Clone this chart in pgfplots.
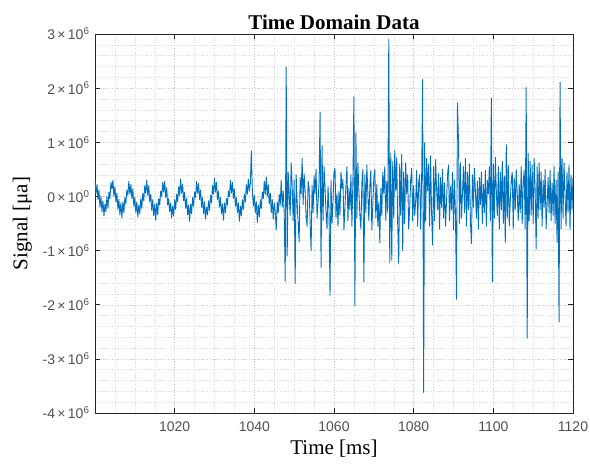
\documentclass[border=0pt]{standalone}
\usepackage{fontspec}
\setmainfont{Liberation Serif}
\newfontfamily\arialfont{Liberation Sans}
\usepackage{pgfplots}
\pgfplotsset{compat=1.18}
\definecolor{mblue}{RGB}{0,114,189}
\definecolor{axgray}{RGB}{38,38,38}
\definecolor{tickgray}{RGB}{80,80,80}
\newcommand{\sci}[2]{#1\,×\,10\textsuperscript{#2}}

\begin{document}
\begin{tikzpicture}
% fix the page to the reference's 590 x 468 frame
\useasboundingbox (-95pt,-55pt) rectangle (495pt,413pt);
\begin{axis}[
    scale only axis,
    width=478pt,
    height=379pt,
    xmin=1000, xmax=1120,
    ymin=-4, ymax=3,
    xtick={1020,1040,...,1120},
    xticklabels={1020,1040,1060,1080,1100,1120},
    minor xtick={1000,1005,...,1120},
    ytick={-4,-3,...,3},
    yticklabels={\sci{-4}{6},\sci{-3}{6},\sci{-2}{6},\sci{-1}{6},\sci{0}{0},\sci{1}{6},\sci{2}{6},\sci{3}{6}},
    minor y tick num=4,
    grid=both,
    major grid style={gray!40, line width=0.4pt, dash pattern=on 1.2pt off 1.6pt},
    minor grid style={gray!28, line width=0.4pt, dash pattern=on 1.2pt off 1.6pt},
    tick align=inside,
    xtick pos=both, ytick pos=both,
    major tick length=5pt,
    minor tick length=0pt,
    axis line style={axgray, line width=0.6pt},
    every tick/.style={axgray, line width=0.6pt},
    ticklabel style={font=\arialfont\fontsize{14}{16}\selectfont, text=tickgray},
    xticklabel style={yshift=-5pt},
    yticklabel style={xshift=-2pt},
    title={\textbf{Time Domain Data}},
    title style={font=\fontsize{21}{24}\selectfont, yshift=-5pt},
    xlabel={Time [ms]},
    ylabel={Signal [μa]},
    label style={font=\fontsize{21}{24}\selectfont},
    xlabel style={yshift=-2pt},
    ylabel style={yshift=4pt},
]
% signal in units of 10^6, sampled every 0.25 ms from 1000 ms
\addplot[mblue, line width=0.9pt, line join=round] table[row sep=\\, x expr=1000+0.25*\coordindex, y index=0] {
y \\
0.30 \\ 0.05 \\ 0.22 \\ -0.06 \\ 0.12 \\ -0.20 \\ 0.00 \\ -0.28 \\ -0.08 \\ -0.36 \\ -0.14 \\ -0.28 \\ 0.00 \\ -0.22 \\ 0.08 \\ -0.04 \\ 0.26 \\
0.14 \\ 0.30 \\ 0.00 \\ 0.18 \\ -0.10 \\ 0.06 \\ -0.24 \\ -0.05 \\ -0.34 \\ -0.12 \\ -0.40 \\ -0.10 \\ -0.30 \\ -0.02 \\ -0.14 \\ 0.12 \\ 0.02 \\
0.28 \\ 0.04 \\ 0.22 \\ -0.04 \\ 0.14 \\ -0.18 \\ -0.02 \\ -0.30 \\ -0.10 \\ -0.38 \\ -0.16 \\ -0.32 \\ -0.04 \\ -0.22 \\ 0.06 \\ -0.08 \\ 0.20 \\
0.06 \\ 0.30 \\ 0.02 \\ 0.20 \\ -0.10 \\ 0.04 \\ -0.26 \\ -0.06 \\ -0.36 \\ -0.14 \\ -0.44 \\ -0.12 \\ -0.34 \\ -0.04 \\ -0.16 \\ 0.10 \\ 0.00 \\
0.26 \\ 0.08 \\ 0.28 \\ -0.02 \\ 0.16 \\ -0.16 \\ -0.04 \\ -0.28 \\ -0.12 \\ -0.40 \\ -0.18 \\ -0.36 \\ -0.06 \\ -0.24 \\ 0.04 \\ -0.10 \\ 0.18 \\
0.02 \\ 0.32 \\ 0.06 \\ 0.22 \\ -0.08 \\ 0.08 \\ -0.22 \\ -0.04 \\ -0.34 \\ -0.16 \\ -0.46 \\ -0.14 \\ -0.32 \\ -0.02 \\ -0.18 \\ 0.08 \\ -0.02 \\
0.28 \\ 0.06 \\ 0.24 \\ -0.06 \\ 0.12 \\ -0.20 \\ -0.02 \\ -0.32 \\ -0.10 \\ -0.42 \\ -0.20 \\ -0.34 \\ -0.08 \\ -0.26 \\ 0.02 \\ -0.12 \\ 0.20 \\
0.04 \\ 0.34 \\ 0.08 \\ 0.26 \\ -0.06 \\ 0.10 \\ -0.20 \\ -0.02 \\ -0.32 \\ -0.14 \\ -0.44 \\ -0.12 \\ -0.30 \\ -0.04 \\ -0.16 \\ 0.10 \\ 0.00 \\
0.30 \\ 0.06 \\ 0.26 \\ -0.04 \\ 0.14 \\ -0.18 \\ -0.02 \\ -0.30 \\ -0.12 \\ -0.46 \\ -0.18 \\ -0.36 \\ -0.06 \\ -0.24 \\ 0.04 \\ -0.10 \\ 0.22 \\
0.04 \\ 0.32 \\ 0.10 \\ 0.24 \\ 0.84 \\ 0.12 \\ -0.18 \\ 0.02 \\ -0.30 \\ -0.10 \\ -0.48 \\ -0.16 \\ -0.38 \\ -0.06 \\ -0.22 \\ 0.08 \\ -0.04 \\
0.28 \\ 0.04 \\ 0.36 \\ 0.00 \\ 0.22 \\ -0.14 \\ 0.06 \\ -0.30 \\ -0.06 \\ -0.42 \\ -0.12 \\ -0.28 \\ -0.62 \\ -0.10 \\ -0.30 \\ 0.04 \\ -0.16 \\
0.30 \\ -0.20 \\ 0.10 \\
-0.30 \\ -1.57 \\ 2.39 \\ -1.10 \\ 0.45 \\ 0.05 \\ -0.35 \\ 0.62 \\ 0.20 \\ -0.45 \\
0.30 \\ -1.61 \\ 0.40 \\ -0.10 \\ -0.50 \\ -0.84 \\ 0.35 \\ 0.05 \\ 0.70 \\ -0.15 \\
0.42 \\ 0.10 \\ -0.38 \\ -0.55 \\ 0.28 \\ 0.15 \\ -0.45 \\ -1.00 \\ 0.20 \\ -0.30 \\
0.38 \\ 0.05 \\ 0.50 \\ -0.40 \\ -0.10 \\ 0.25 \\ 1.56 \\ -1.31 \\ 0.94 \\ -0.45 \\
0.55 \\ 0.15 \\ -0.30 \\ -0.60 \\ 0.18 \\ -0.25 \\ -1.83 \\ 0.30 \\ -0.50 \\ -0.10 \\
0.45 \\ 0.52 \\ -0.40 \\ 0.05 \\ -0.55 \\ 0.10 \\ -0.35 \\ 0.45 \\ 0.15 \\ 0.32 \\
-0.62 \\ -0.20 \\ 0.20 \\ 0.55 \\ -0.45 \\ 0.15 \\ -0.25 \\ 0.40 \\ -0.55 \\ 0.30 \\
1.84 \\ -2.01 \\ 1.17 \\ -0.40 \\ 0.62 \\ 0.10 \\ -0.35 \\ -0.60 \\ 0.25 \\ 0.50 \\
-1.58 \\ 0.40 \\ -0.30 \\ 0.58 \\ 0.05 \\ -0.45 \\ 0.20 \\ 0.48 \\ -0.62 \\ -0.15 \\
0.35 \\ 0.50 \\ -0.40 \\ 0.22 \\ -0.55 \\ -0.10 \\ -0.86 \\ 0.15 \\ -0.35 \\ 0.45 \\
0.05 \\ 0.55 \\ -0.45 \\ 0.28 \\ -0.30 \\ 2.90 \\ -1.23 \\ 0.80 \\ -1.18 \\ 0.65 \\
-0.40 \\ 0.85 \\ 0.10 \\ 0.72 \\ -0.55 \\ -1.24 \\ 0.60 \\ -0.35 \\ 0.78 \\ -1.00 \\
0.45 \\ -0.50 \\ 0.62 \\ 0.05 \\ 0.40 \\ -0.60 \\ -0.20 \\ 0.30 \\ 0.52 \\ -0.45 \\
0.20 \\ -0.35 \\ -0.10 \\ 0.48 \\ -0.55 \\ 0.25 \\ 0.40 \\ -0.60 \\ 0.30 \\ 2.16 \\
-3.62 \\ 0.99 \\ -0.45 \\ 0.70 \\ 0.10 \\ 0.60 \\ -0.55 \\ 0.75 \\ -0.30 \\ -0.90 \\
0.55 \\ -0.45 \\ 0.68 \\ 0.15 \\ -0.25 \\ 0.42 \\ -0.60 \\ 0.35 \\ -0.20 \\ 0.50 \\
-0.40 \\ 0.25 \\ -0.55 \\ -0.10 \\ 0.40 \\ 0.58 \\ -0.45 \\ 0.18 \\ -0.25 \\ 0.45 \\
-0.62 \\ 0.30 \\ -0.35 \\ -1.90 \\ 1.73 \\ 1.03 \\ -0.50 \\ 0.62 \\ -0.40 \\ 0.05 \\
0.55 \\ -0.30 \\ 0.70 \\ -0.55 \\ 0.45 \\ -0.25 \\ 0.60 \\ -0.45 \\ -0.87 \\ 0.40 \\
-0.20 \\ 0.52 \\ 0.10 \\ -0.40 \\ 0.28 \\ -0.60 \\ 0.35 \\ -0.15 \\ 0.45 \\ -0.50 \\
0.22 \\ -0.30 \\ 0.48 \\ -0.55 \\ 0.30 \\ 0.05 \\ 0.55 \\ -0.45 \\ 1.82 \\ -1.58 \\
0.60 \\ -0.40 \\ 0.72 \\ 0.10 \\ -0.35 \\ 0.55 \\ -0.60 \\ 0.45 \\ -0.25 \\ 0.65 \\
-0.50 \\ 0.38 \\ -0.85 \\ 0.96 \\ -0.40 \\ 0.58 \\ -0.55 \\ -0.10 \\ 0.30 \\ 0.45 \\
-0.60 \\ 0.35 \\ -0.25 \\ 0.50 \\ 0.05 \\ -0.45 \\ 0.22 \\ -0.30 \\ 0.55 \\ -0.50 \\
0.28 \\ 0.48 \\ -0.60 \\ 2.01 \\ -2.62 \\ 0.80 \\ -0.45 \\ 0.65 \\ -0.35 \\ 0.58 \\
-0.50 \\ 0.70 \\ 0.10 \\ -0.97 \\ 0.55 \\ -0.40 \\ 0.62 \\ -0.25 \\ 0.45 \\ -0.55 \\
0.30 \\ -0.20 \\ 0.50 \\ -0.60 \\ -0.15 \\ 0.35 \\ -0.30 \\ 0.48 \\ -0.45 \\ 0.25 \\
-0.35 \\ 0.55 \\ -0.50 \\ 0.30 \\ -0.85 \\ 0.45 \\ -2.32 \\ 2.11 \\ -0.60 \\ 0.70 \\
-0.40 \\ 0.62 \\ 0.05 \\ -0.55 \\ 0.45 \\ -0.30 \\ 0.58 \\ -0.62 \\ 0.40 \\ -0.25 \\
0.35 \\
};
\end{axis}
\end{tikzpicture}
\end{document}
